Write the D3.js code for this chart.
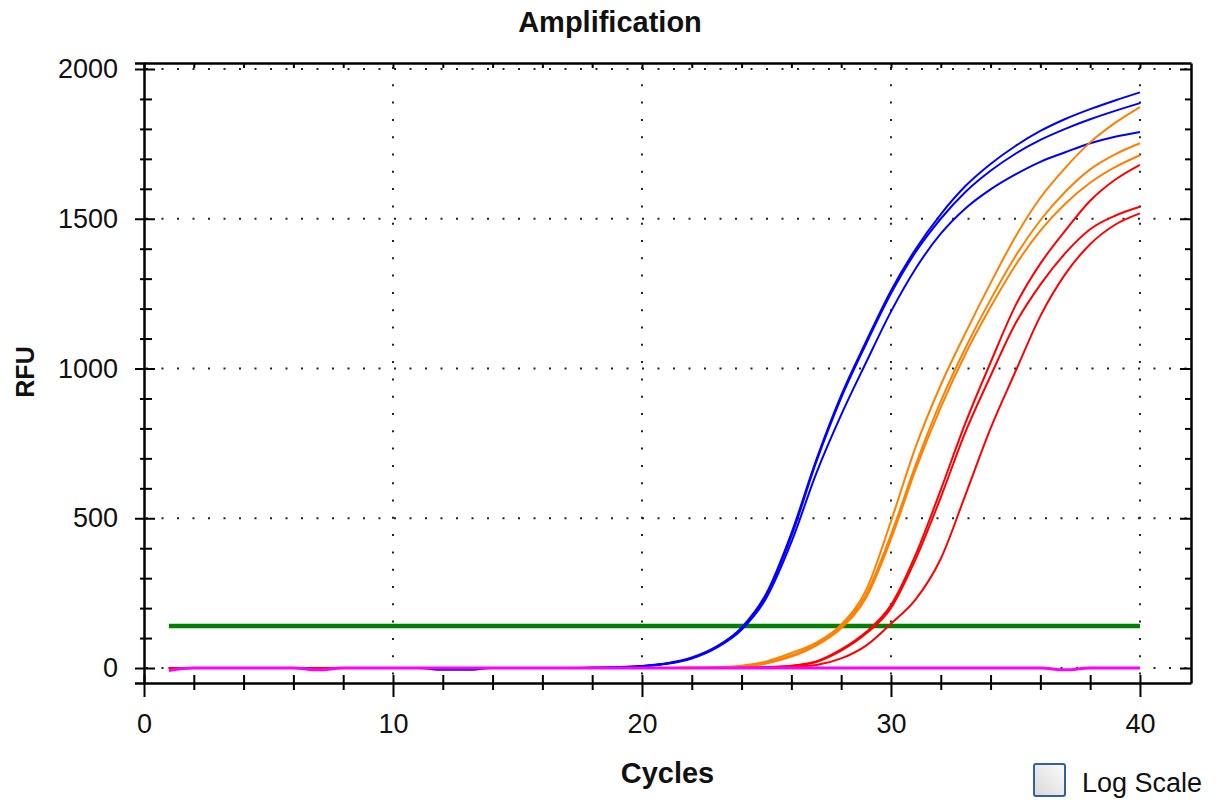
<!doctype html>
<html>
<head>
<meta charset="utf-8">
<script src="https://cdn.jsdelivr.net/npm/d3@7"></script>
<style>
  body { margin: 0; background: #fff; }
  svg text { font-family: "Liberation Sans", Arial, sans-serif; fill: #111; }
</style>
</head>
<body>
<div id="viz"></div>
<script>

// cycles 1..40
var cycles = [1,2,3,4,5,6,7,8,9,10,11,12,13,14,15,16,17,18,19,20,
              21,22,23,24,25,26,27,28,29,30,31,32,33,34,35,36,37,38,39,40];

var blue1 = [0,0,0,0,0,0,0,0,0,0,0,-6,-6,0,0,0,0,1,3,7,
             16,35,72,135,250,450,695,910,1090,1260,1400,1515,1610,1683,1743,1793,1833,1866,1895,1922];
var blue2 = [0,0,0,0,0,0,0,0,0,0,0,0,0,0,0,0,0,1,3,6,
             15,33,70,132,245,440,688,902,1082,1250,1390,1500,1590,1660,1717,1763,1800,1832,1860,1886];
var blue3 = [0,0,0,0,0,0,0,0,0,0,0,0,0,0,0,0,0,1,2,6,
             14,32,68,128,235,420,650,845,1020,1190,1335,1450,1535,1598,1648,1690,1722,1752,1774,1790];

var orange1 = [0,0,0,0,0,0,0,0,0,0,0,0,0,0,0,0,0,0,0,0,
               0,1,3,8,22,50,85,145,260,490,740,945,1120,1285,1440,1570,1670,1755,1820,1873];
var orange2 = [0,0,0,0,0,0,0,0,0,0,0,0,0,0,0,0,0,0,0,0,
               0,1,2,6,18,42,80,140,245,445,680,890,1070,1230,1375,1495,1590,1665,1715,1752];
var orange3 = [0,0,0,0,0,0,0,0,0,0,0,0,0,0,0,0,0,0,0,0,
               0,1,2,5,15,38,75,133,235,430,665,870,1050,1205,1345,1460,1550,1620,1672,1712];

var red1 = [0,0,0,0,0,0,0,0,0,0,0,0,0,0,0,0,0,0,0,0,
            0,0,0,1,3,8,22,62,120,210,380,595,820,1020,1210,1350,1460,1560,1630,1680];
var red2 = [0,0,0,0,0,0,0,0,0,0,0,0,0,0,0,0,0,0,0,0,
            0,0,0,1,3,7,20,58,115,200,365,570,790,975,1150,1280,1385,1465,1510,1540];
var red3 = [0,0,0,0,0,0,0,0,0,0,0,0,0,0,0,0,0,0,0,0,
            0,0,0,0,1,4,10,32,75,148,230,365,580,800,990,1175,1315,1415,1480,1518];

var ntc = [-8,0,0,0,0,0,-6,0,0,0,0,0,0,0,0,0,0,0,0,0,
           0,0,0,0,0,0,0,0,0,0,0,0,0,0,0,0,-6,0,0,0];

var threshold = 140;

var yTicks = [0, 500, 1000, 1500, 2000];
var xTicks = [0, 10, 20, 30, 40];

var series = [
  { color: '#0000ff', values: blue1 },
  { color: '#0000ff', values: blue2 },
  { color: '#0000ff', values: blue3 },
  { color: '#ff8000', values: orange1 },
  { color: '#ff8000', values: orange2 },
  { color: '#ff8000', values: orange3 },
  { color: '#ff0000', values: red1 },
  { color: '#ff0000', values: red2 },
  { color: '#ff0000', values: red3 }
];

var W = 1216, H = 803;
var pLeft = 144, pRight = 1191, pTop = 63, pBottom = 683;

var x = d3.scaleLinear().domain([0, 42.05]).range([pLeft, pRight]);
var y = d3.scaleLinear().domain([-50, 2020]).range([pBottom, pTop]);

var svg = d3.select('#viz').append('svg')
  .attr('width', W)
  .attr('height', H)
  .style('background', '#fff');

// dotted grid
svg.append('g').selectAll('line')
  .data(yTicks)
  .enter().append('line')
  .attr('x1', pLeft + 2).attr('x2', pRight)
  .attr('y1', function(d) { return y(d); })
  .attr('y2', function(d) { return y(d); })
  .style('stroke', '#222')
  .style('stroke-width', 2)
  .style('stroke-dasharray', '2,13.5');

svg.append('g').selectAll('line')
  .data(xTicks.slice(1))
  .enter().append('line')
  .attr('x1', function(d) { return x(d); })
  .attr('x2', function(d) { return x(d); })
  .attr('y1', pTop + 4).attr('y2', pBottom)
  .style('stroke', '#222')
  .style('stroke-width', 2)
  .style('stroke-dasharray', '2,15.3');

// threshold
svg.append('line')
  .attr('x1', x(1)).attr('x2', x(40))
  .attr('y1', y(threshold)).attr('y2', y(threshold))
  .style('stroke', '#008000')
  .style('stroke-width', 4.5);

var line = d3.line()
  .x(function(d, i) { return x(cycles[i]); })
  .y(function(d) { return y(d); })
  .curve(d3.curveMonotoneX);

svg.append('g').selectAll('path')
  .data(series)
  .enter().append('path')
  .attr('d', function(d) { return line(d.values); })
  .style('fill', 'none')
  .style('stroke', function(d) { return d.color; })
  .style('stroke-width', 2);

svg.append('path')
  .attr('d', line(ntc))
  .style('fill', 'none')
  .style('stroke', '#ff00ff')
  .style('stroke-width', 3);

// axes
var yAxis = d3.axisLeft(y)
  .tickValues(d3.range(0, 2001, 100))
  .tickFormat(function(d) { return d % 500 === 0 ? d : ''; })
  .tickSizeOuter(0)
  .tickSize(9)
  .tickPadding(17);

svg.append('g')
  .attr('transform', 'translate(' + pLeft + ',0)')
  .call(yAxis)
  .call(function(g) {
    g.select('.domain').style('stroke-width', 2.5).style('stroke', '#000');
    g.selectAll('.tick line')
      .attr('x1', function(d) { return d % 500 === 0 ? 11 : 8; })
      .attr('x2', function(d) { return d % 500 === 0 ? -9 : -4; })
      .style('stroke-width', 2).style('stroke', '#000');
    g.selectAll('.tick text').style('font-size', '27px');
  });

var xAxis = d3.axisBottom(x)
  .tickValues(d3.range(0, 41, 2))
  .tickFormat(function(d) { return d % 10 === 0 ? d : ''; })
  .tickSizeOuter(0);

svg.append('g')
  .attr('transform', 'translate(0,' + pBottom + ')')
  .call(xAxis)
  .call(function(g) {
    g.select('.domain').style('stroke-width', 2.5).style('stroke', '#000');
    g.selectAll('.tick line')
      .attr('y1', -8)
      .attr('y2', function(d) { return d % 10 === 0 ? 14 : 7; })
      .style('stroke-width', 2).style('stroke', '#000');
    g.selectAll('.tick text')
      .attr('y', 50).attr('dy', 0)
      .style('font-size', '27px');
  });

// top and right frame with inner ticks
var topAxis = d3.axisBottom(x)
  .tickValues(d3.range(0, 41, 2))
  .tickFormat('')
  .tickSize(5)
  .tickSizeOuter(0);

svg.append('g')
  .attr('transform', 'translate(0,' + pTop + ')')
  .call(topAxis)
  .call(function(g) {
    g.select('.domain').style('stroke-width', 2.5).style('stroke', '#000');
    g.selectAll('.tick line').style('stroke-width', 2).style('stroke', '#000');
  });

var rightAxis = d3.axisLeft(y)
  .tickValues(d3.range(0, 2001, 100))
  .tickFormat('')
  .tickSizeOuter(0);

svg.append('g')
  .attr('transform', 'translate(' + pRight + ',0)')
  .call(rightAxis)
  .call(function(g) {
    g.select('.domain').style('stroke-width', 2.5).style('stroke', '#000');
    g.selectAll('.tick line')
      .attr('x2', function(d) { return d % 500 === 0 ? -11 : -6; })
      .style('stroke-width', 2).style('stroke', '#000');
  });

// titles
svg.append('text')
  .attr('x', 610).attr('y', 32)
  .attr('text-anchor', 'middle')
  .style('font-size', '29px')
  .style('font-weight', 'bold')
  .text('Amplification');

svg.append('text')
  .attr('x', (pLeft + pRight) / 2).attr('y', 783)
  .attr('text-anchor', 'middle')
  .style('font-size', '29px')
  .style('font-weight', 'bold')
  .text('Cycles');

svg.append('text')
  .attr('transform', 'translate(34,372) rotate(-90)')
  .attr('text-anchor', 'middle')
  .style('font-size', '25px')
  .style('font-weight', 'bold')
  .text('RFU');

// log scale checkbox
var defs = svg.append('defs');
var grad = defs.append('linearGradient')
  .attr('id', 'cb')
  .attr('x1', '0').attr('y1', '1').attr('x2', '1').attr('y2', '0');
grad.append('stop').attr('offset', '0%').attr('stop-color', '#d8d8d8');
grad.append('stop').attr('offset', '100%').attr('stop-color', '#fbfbfb');

svg.append('rect')
  .attr('x', 1034).attr('y', 764)
  .attr('width', 31).attr('height', 32)
  .attr('rx', 2)
  .style('fill', 'url(#cb)')
  .style('stroke', '#2f6499')
  .style('stroke-width', 2);

svg.append('text')
  .attr('x', 1082).attr('y', 792)
  .style('font-size', '27px')
  .text('Log Scale');

</script>
</body>
</html>
